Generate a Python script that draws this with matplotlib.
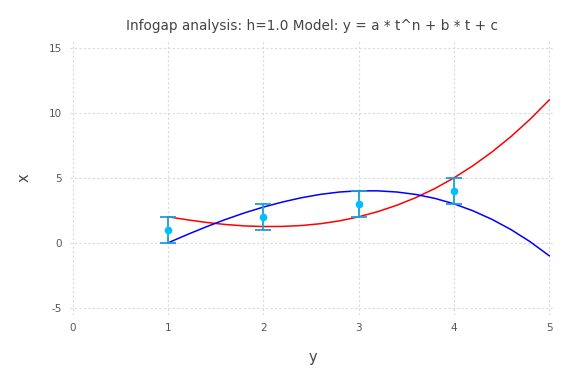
import numpy as np
import matplotlib
matplotlib.use("Agg")
import matplotlib.pyplot as plt

plt.rcParams["axes.unicode_minus"] = False

# observations
t_obs = [1, 2, 3, 4]
x_obs = [1, 2, 3, 4]
x_err = [1, 1, 1, 1]

# curves (step 0.2 in t)
t_curve = [1.0, 1.2, 1.4, 1.6, 1.8, 2.0, 2.2, 2.4, 2.6, 2.8, 3.0,
           3.2, 3.4, 3.6, 3.8, 4.0, 4.2, 4.4, 4.6, 4.8, 5.0]
red_curve = [2.0, 1.77, 1.57, 1.41, 1.30, 1.25, 1.26, 1.33, 1.47, 1.69, 2.0,
             2.40, 2.89, 3.48, 4.18, 5.0, 5.94, 7.0, 8.19, 9.52, 11.0]
blue_curve = [0.0, 0.63, 1.23, 1.79, 2.30, 2.75, 3.14, 3.47, 3.73, 3.91, 4.0,
              4.0, 3.91, 3.72, 3.42, 3.0, 2.46, 1.80, 1.01, 0.08, -1.0]

xticks = [0, 1, 2, 3, 4, 5]
yticks = [-5, 0, 5, 10, 15]

fig = plt.figure(figsize=(5.76, 3.84), dpi=100)
ax = fig.add_axes([0.1215, 0.18, 0.842, 0.712])

ax.grid(True, linestyle=(0, (2, 2)), color="#d9d9e6", linewidth=0.8)
ax.set_axisbelow(True)

ax.plot(t_curve, red_curve, color="red", linewidth=1.1)
ax.plot(t_curve, blue_curve, color="blue", linewidth=1.1)
ax.errorbar(t_obs, x_obs, yerr=x_err, fmt="o", color="#00bfff", ecolor="#1a9fd6",
            markersize=4.5, elinewidth=1.3, capsize=6, capthick=1.3, zorder=5)

ax.set_xlim(-0.03, 5.06)
ax.set_ylim(-5.55, 15.5)
ax.set_xticks(xticks)
ax.set_yticks(yticks)
for s in ax.spines.values():
    s.set_visible(False)
ax.tick_params(length=0, labelsize=7.5, colors="#555555", pad=6)

ax.set_title("Infogap analysis: h=1.0 Model: y = a * t^n + b * t + c",
             fontsize=9.8, color="#444444", pad=8)
ax.set_xlabel("y", fontsize=10.5, color="#444444", labelpad=12)
ax.set_ylabel("x", fontsize=10.5, color="#444444", labelpad=12)

fig.savefig("out.png", dpi=100)
